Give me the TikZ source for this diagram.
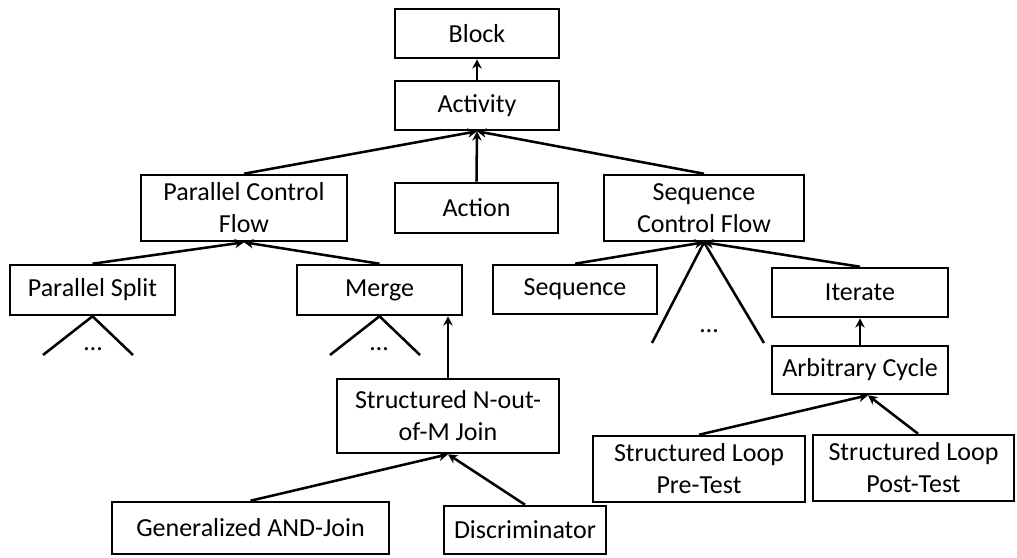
\documentclass[tikz,border=0pt]{standalone}
\usepackage{fontspec}
\setmainfont{Carlito}
\usetikzlibrary{arrows.meta}
\begin{document}
\begin{tikzpicture}[x=0.75pt,y=-0.75pt,
  box/.style={draw,line width=1.9pt,inner sep=0pt,align=center,
    font=\fontsize{19.5}{24}\selectfont},
  conn/.style={line width=1.9pt,-{Stealth[length=7pt,width=7pt]}},
  plain/.style={line width=1.9pt},
  dotlabel/.style={font=\fontsize{19.5}{22}\selectfont,inner sep=0pt}]
\useasboundingbox (0,0) rectangle (1017,557);
% boxes
\node[box,minimum width=123pt,minimum height=36.75pt] (block) at (477,33.5) {Block};
\node[box,minimum width=123pt,minimum height=36.75pt] (activity) at (477,105.5) {Activity};
\node[box,minimum width=122pt,minimum height=37.5pt] (action) at (476.5,208) {Action};
\node[box,minimum width=154.5pt,minimum height=49.5pt] (pcf) at (244,208) {Parallel Control\\Flow};
\node[box,minimum width=150pt,minimum height=49.5pt] (scf) at (704,208) {Sequence\\Control Flow};
\node[box,minimum width=123.75pt,minimum height=37.5pt] (psplit) at (92.5,290) {Parallel Split};
\node[box,minimum width=123.75pt,minimum height=37.5pt] (merge) at (379.5,290) {Merge};
\node[box,minimum width=123pt,minimum height=36.75pt] (seq) at (575,289.5) {Sequence};
\node[box,minimum width=132pt,minimum height=36.75pt] (iterate) at (860,292.5) {Iterate};
\node[box,minimum width=132pt,minimum height=36pt] (arbc) at (860,370) {Arbitrary Cycle};
\node[box,minimum width=166.5pt,minimum height=55.5pt] (snm) at (448,416) {Structured N-out-\\of-M Join};
\node[box,minimum width=207.75pt,minimum height=39pt] (gen) at (250.5,528) {Generalized AND-Join};
\node[box,minimum width=121.5pt,minimum height=36pt] (disc) at (525,530) {Discriminator};
\node[box,minimum width=159pt,minimum height=49.5pt] (pre) at (699,469) {Structured Loop\\Pre-Test};
\node[box,minimum width=150.75pt,minimum height=49.5pt] (post) at (913.5,468) {Structured Loop\\Post-Test};
% connectors
\draw[conn] (activity.north) -- (block.south);
\draw[conn] (action.north) -- (activity.south);
\draw[conn] (pcf.north) -- (activity.south);
\draw[conn] (scf.north) -- (activity.south);
\draw[conn] (psplit.north) -- (pcf.south);
\draw[conn] (merge.north) -- (pcf.south);
\draw[conn] (seq.north) -- (scf.south);
\draw[conn] (iterate.north) -- (scf.south);
\draw[conn] (arbc.north) -- (iterate.south);
\draw[conn] (snm.north) -- (snm.north |- merge.south);
\draw[conn] (gen.north) -- (snm.south);
\draw[conn] (disc.north) -- (snm.south);
\coordinate (arbin) at ([xshift=6pt]arbc.south);
\draw[conn] (pre.north) -- (arbin);
\draw[conn] ([xshift=3.4pt]post.north) -- (arbin);
% elided children
\coordinate (psl) at (43,355); \coordinate (psr) at (133,355);
\draw[plain] (psl) -- (psplit.south) -- (psr);
\node[dotlabel] (psdots) at (93,349) {…};
\coordinate (ml) at (330,355); \coordinate (mr) at (420,355);
\draw[plain] (ml) -- (merge.south) -- (mr);
\node[dotlabel] (mdots) at (379,349) {…};
\coordinate (sl) at (652,343); \coordinate (sr) at (764,343);
\draw[plain] (sl) -- (scf.south) -- (sr);
\node[dotlabel] (sdots) at (709,331) {…};
\end{tikzpicture}
\end{document}
